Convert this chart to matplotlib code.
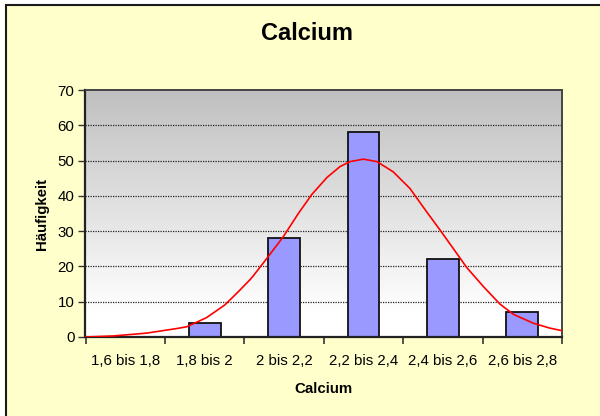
import numpy as np
import matplotlib
matplotlib.use('Agg')
import matplotlib.pyplot as plt
from matplotlib.patches import Rectangle

# class limits and counts
edges   = [1.6, 1.8, 2.0, 2.2, 2.4, 2.6, 2.8]
labels  = ['1,6 bis 1,8', '1,8 bis 2', '2 bis 2,2',
           '2,2 bis 2,4', '2,4 bis 2,6', '2,6 bis 2,8']
counts  = [0, 4, 28, 58, 22, 7]

# normal curve
curve_x = [1.601, 1.670, 1.754, 1.830, 1.855, 1.905, 1.951, 1.981, 2.014,
           2.023, 2.050, 2.098, 2.136, 2.170, 2.208, 2.241, 2.266, 2.300,
           2.334, 2.375, 2.417, 2.459, 2.493, 2.526, 2.560, 2.602, 2.644,
           2.678, 2.728, 2.770, 2.800]
curve_y = [0.0, 0.3, 1.1, 2.4, 2.9, 5.5, 9.1, 12.4, 16.2,
           17.4, 21.3, 28.4, 35.0, 40.4, 45.2, 48.3, 49.7, 50.4,
           49.7, 46.8, 42.1, 35.5, 30.3, 25.1, 19.7, 14.3, 9.3,
           6.4, 3.9, 2.5, 1.8]

yticks = [0, 10, 20, 30, 40, 50, 60, 70]

plt.rcParams['font.family'] = ['Liberation Sans', 'DejaVu Sans']

fig = plt.figure(figsize=(6.0, 4.16), dpi=100)
fig.patch.set_facecolor('white')
fig.patches.append(Rectangle((6/600, -0.1), 1.2, 1.1 - 4.5/416,
                             transform=fig.transFigure, facecolor='#FFFFCC',
                             edgecolor='#1a1a1a', linewidth=1.5, zorder=-10))

ax = fig.add_axes([85.5/600, 1 - 337/416, 476.5/600, 247/416])

# grey-to-white background gradient of the plot area
n = 200
g = np.linspace(262, 192, n)
g = np.minimum(g, 255) / 255.0
grad = np.dstack([g, g, g]).reshape(n, 1, 3)
ax.imshow(grad, extent=[edges[0], edges[-1], 0, 70], origin='lower',
          aspect='auto', zorder=0, interpolation='bilinear')

for t in yticks[1:-1]:
    ax.axhline(t, color='#222222', linewidth=0.9, linestyle=(0, (1, 1)),
               zorder=1)

centers = [(a + b) / 2 for a, b in zip(edges[:-1], edges[1:])]
ax.bar(centers, counts, width=0.08, color='#9999FF', edgecolor='#111111',
       linewidth=1.3, zorder=2)

ax.plot(curve_x, curve_y, color='#FF0000', linewidth=1.2, zorder=3)

ax.set_xlim(edges[0], edges[-1])
ax.set_ylim(0, 70)

ax.set_xticks(edges)
ax.set_xticklabels([])
ax.set_xticks(centers, minor=True)
ax.set_xticklabels(labels, minor=True, fontsize=10.8)
ax.tick_params(axis='x', which='minor', length=0, pad=12)
ax.tick_params(axis='x', which='major', length=5, width=1.2,
               color='#333333', direction='out')

ax.set_yticks(yticks)
ax.set_yticklabels([str(t) for t in yticks], fontsize=10.8)
ax.tick_params(axis='y', length=5, width=1.0, color='#333333', pad=3)

for s in ['left', 'bottom']:
    ax.spines[s].set_color('#222222')
    ax.spines[s].set_linewidth(1.6)
for s in ['top', 'right']:
    ax.spines[s].set_color('#444444')
    ax.spines[s].set_linewidth(1.4)

ax.set_xlabel('Calcium', fontsize=10.8, fontweight='bold', labelpad=10)
ax.set_ylabel('Häufigkeit', fontsize=10.8, fontweight='bold', labelpad=6)

fig.text(307/600, 1 - 34/416, 'Calcium', ha='center', va='center',
         fontsize=17, fontweight='bold')

fig.savefig('out.png', dpi=100, facecolor=fig.get_facecolor())
